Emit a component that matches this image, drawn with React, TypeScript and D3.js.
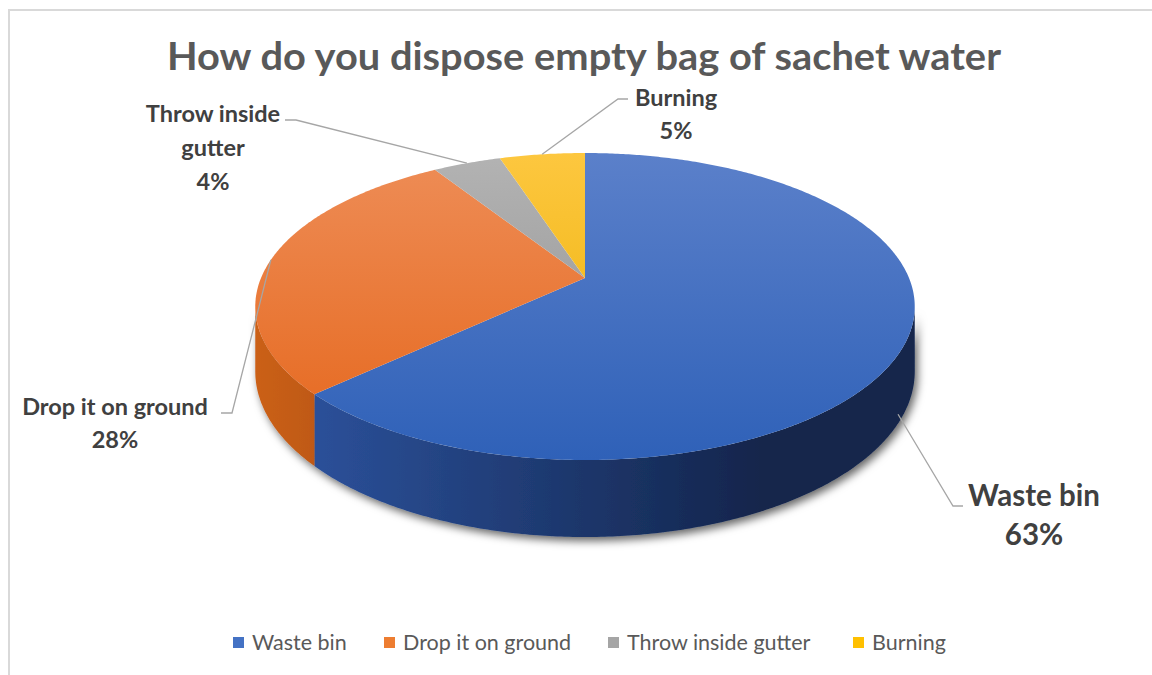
import React from 'react';
import * as d3 from 'd3';

const categories = ['Waste bin', 'Drop it on ground', 'Throw inside gutter', 'Burning'];
const values = [63, 28, 4, 5];
const labelLines = [['Waste bin'], ['Drop it on ground'], ['Throw inside', 'gutter'], ['Burning']];
const title = 'How do you dispose empty bag of sachet water';

const legendColors = ['#4472c4', '#ed7d31', '#a5a5a5', '#ffc000'];
const topGrad = [
  ['#5b80ca', '#2f61b8'],
  ['#ee8d57', '#e5661b'],
  ['#b3b3b3', '#8e8e8e'],
  ['#fdc73f', '#e9ae00'],
];
const wallGrad = [
  ['#2b5099', '#13254c'],
  ['#cb6019', '#bf5917'],
  ['#8a8a8a', '#7a7a7a'],
  ['#d9a000', '#c89300'],
];

// label layout: center x, first baseline, font size, line gap, leader anchor
const labelLayout = [
  { cx: 1034, y: 506, size: 29.5, gap: 39, lx: 963, ly: 506, bx: 953, dz: 1 },
  { cx: 115, y: 415, size: 23.5, gap: 33, lx: 221, ly: 413, bx: 232, dz: 0 },
  { cx: 213, y: 122, size: 23.5, gap: 34, lx: 285, ly: 120, bx: 296, dz: 0 },
  { cx: 676, y: 106, size: 23.5, gap: 33, lx: 628, ly: 99, bx: 618, dz: 0 },
];

const W = 1152;
const H = 675;
// pie geometry
const cx = 585;
const cy = 278;
const A = 324;
const B = 148.2;
const P = 0.1857;
const DEPTH = 62.7;

function proj(theta: number, dz: number): [number, number] {
  const u = Math.sin(theta);
  const v = -Math.cos(theta);
  const w = 1 - P * v;
  return [cx + (A * u) / w, cy + (B * v) / w + (dz * DEPTH) / w];
}

function arcPts(a0: number, a1: number, dz: number): [number, number][] {
  const n = Math.max(2, Math.ceil(Math.abs(a1 - a0) / 0.01));
  const pts: [number, number][] = [];
  for (let i = 0; i <= n; i++) pts.push(proj(a0 + ((a1 - a0) * i) / n, dz));
  return pts;
}

export default function App() {
  const pie = d3.pie<number>().sort(null).value((d) => d)(values);
  const total = d3.sum(values);
  const line = d3.line();

  const visLo = Math.PI - Math.acos(P);
  const visHi = Math.PI + Math.acos(P);

  const tops = pie.map((s, i) => {
    const pts = [[cx, cy] as [number, number], ...arcPts(s.startAngle, s.endAngle, 0)];
    return { i, d: line(pts) + 'Z' };
  });

  const walls = pie
    .map((s, i) => {
      const a0 = Math.max(s.startAngle, visLo);
      const a1 = Math.min(s.endAngle, visHi);
      if (a1 <= a0) return null;
      const pts = [...arcPts(a0, a1, 0), ...arcPts(a1, a0, 1)];
      const x0 = proj(a0, 0)[0];
      const x1 = proj(a1, 0)[0];
      return { i, d: line(pts) + 'Z', x0: Math.min(x0, x1), x1: Math.max(x0, x1) };
    })
    .filter(Boolean) as { i: number; d: string; x0: number; x1: number }[];

  const leaders = pie.map((s, i) => {
    const mid = (s.startAngle + s.endAngle) / 2;
    const L = labelLayout[i];
    const p = proj(mid, L.dz);
    if (L.dz) {
      p[0] -= 8;
      p[1] += 5;
    }
    return line([[L.lx, L.ly], [L.bx, L.ly], p]);
  });

  const font = 'Lato, "Open Sans", sans-serif';

  const legendX = [233, 384, 608, 853];

  return (
    <svg width={W} height={H} style={{ position: 'fixed', left: 0, top: 0, background: '#fff' }}>
      <defs>
        {topGrad.map((g, i) => (
          <linearGradient key={'t' + i} id={'top' + i} gradientUnits="userSpaceOnUse" x1={0} y1={153} x2={0} y2={460}>
            <stop offset="0" stopColor={g[0]} />
            <stop offset="1" stopColor={g[1]} />
          </linearGradient>
        ))}
        {walls.map((w) => (
          <linearGradient key={'w' + w.i} id={'wall' + w.i} gradientUnits="userSpaceOnUse" x1={w.x0} y1={0} x2={w.i === 0 ? 760 : w.x1} y2={0}>
            <stop offset="0" stopColor={wallGrad[w.i][0]} />
            <stop offset="1" stopColor={wallGrad[w.i][1]} />
          </linearGradient>
        ))}
        <filter id="shadow" x="-10%" y="-10%" width="120%" height="130%">
          <feDropShadow dx="3" dy="4" stdDeviation="4" floodColor="#000" floodOpacity="0.6" />
        </filter>
      </defs>

      <rect x={9} y={10} width={W} height={H} fill="#fff" stroke="#d9d9d9" strokeWidth={2} />

      <text x={584} y={70} textAnchor="middle" fontFamily={font} fontWeight={700} fontSize={39} fill="#595959" textLength={834} lengthAdjust="spacingAndGlyphs">
        {title}
      </text>

      <g filter="url(#shadow)">
        {walls.map((w) => (
          <path key={w.i} d={w.d} fill={`url(#wall${w.i})`} />
        ))}
      </g>
      <g>
        {tops.map((t) => (
          <path key={t.i} d={t.d} fill={`url(#top${t.i})`} />
        ))}
      </g>

      <g fill="none" stroke="#a6a6a6" strokeWidth={1.3}>
        {leaders.map((d, i) => (
          <path key={i} d={d as string} />
        ))}
      </g>

      <g fontFamily={font} fontWeight={700} fill="#404040" textAnchor="middle">
        {pie.map((s, i) => {
          const L = labelLayout[i];
          const lines = [...labelLines[i], `${Math.round((s.data / total) * 100)}%`];
          return (
            <text key={i} fontSize={L.size}>
              {lines.map((t, j) => (
                <tspan key={j} x={L.cx} y={L.y + j * L.gap}>
                  {t}
                </tspan>
              ))}
            </text>
          );
        })}
      </g>

      <g fontFamily={font} fontSize={21.5} fill="#595959">
        {categories.map((c, i) => (
          <g key={c}>
            <rect x={legendX[i]} y={637} width={11} height={11} fill={legendColors[i]} />
            <text x={legendX[i] + 19} y={650}>
              {c}
            </text>
          </g>
        ))}
      </g>
    </svg>
  );
}
